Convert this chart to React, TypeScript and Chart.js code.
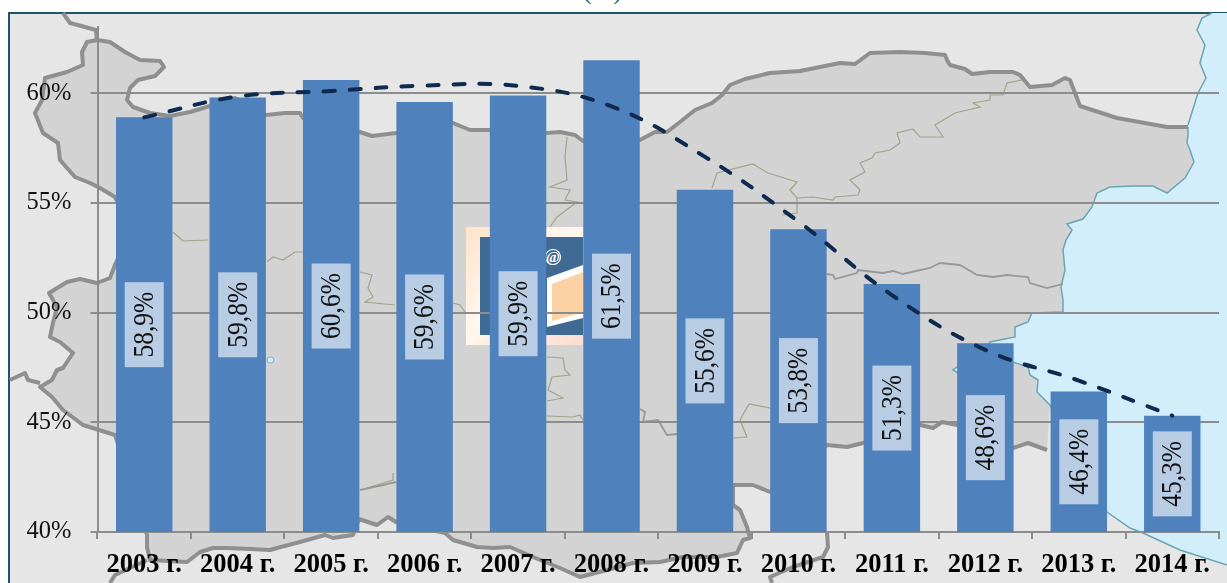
import React, { useEffect, useRef } from "react";
import { Chart, registerables } from "chart.js";

Chart.register(...registerables);

const categories = ["2003 г.", "2004 г.", "2005 г.", "2006 г.", "2007 г.", "2008 г.", "2009 г.", "2010 г.", "2011 г.", "2012 г.", "2013 г.", "2014 г."];
const barValues = [58.9, 59.8, 60.6, 59.6, 59.9, 61.5, 55.6, 53.8, 51.3, 48.6, 46.4, 45.3];
const trendValues = [58.9, 59.85, 60.1, 60.35, 60.33, 59.4, 57.1, 54.15, 50.8, 48.3, 46.9, 45.3];

const SERIF = '"Liberation Serif", "Times New Roman", serif';

// Decorative backdrop (the map picture behind the chart), in page pixels.
const northBorder = "97,40 110,42 125,52 140,60 160,61 164,67 155,76 138,80 130,88 127,100 133,107 150,113 170,116 190,112 210,106 235,98 266,115 285,113 300,113 303,118 360,132 372,136 396,133 453,123 470,130 490,130 546,133 560,132 575,135 583,141 640,140 655,132 667,132 680,122 695,110 712,103 722,95 730,85 745,79 770,73 800,71 820,67 840,63 855,64 870,53 900,52 925,53 945,55 947,60 950,65 965,69 972,74 990,72 1013,72 1020,75 1030,87 1052,85 1065,78 1070,80 1080,106 1117,118 1167,127 1188,127";
const coastNorth = "1212,13 1202,18 1197,30 1205,45 1200,63 1206,78 1198,93 1188,125";
const coastMain = "1188,127 1188,135 1187,143 1190,150 1194,162 1185,178 1167,193 1153,186 1133,186 1110,187 1097,193 1092,207 1083,219 1067,224 1072,230 1066,240 1063,250 1065,270 1061,287 1063,300 1063,312 1032,313 1028,322 1015,327 1015,337 990,342 985,352 960,365 953,370 958,373 985,365 1013,362 1028,367 1030,375 1038,380 1037,392 1050,405";
const coastSouth = "1050,405 1075,460 1107,512 1130,528 1143,533 1180,550 1227,565";
const southBorder = "1047,450 1028,443 1013,448 957,425 942,422 933,428 920,425 863,443 847,447 827,445 770,492 753,485 733,485 733,505 740,510 747,527 750,538 743,540 737,553 717,557 683,557 660,562 633,563 607,570 580,577 560,568 533,557 510,547 493,548 477,547 453,540 445,533 396,522 388,517 377,525 359,519 353,535 333,538 325,535 300,542 277,548 270,550 227,548 213,548 200,552 187,562 150,560 147,547 147,535 115,435 83,425 63,410 52,397 40,387 52,380 57,370 63,368 73,353 60,342 50,337 53,323 57,307 49,293 67,282 80,279 97,283 110,278 115,265 130,230 115,197 100,188 90,183 75,177 60,160 58,143 43,133 35,113 42,100 45,78 67,72 83,65 82,52 87,42 97,40";
const thickExtras = [
  "63,13 70,23 85,27 96,30 97,42",
  "10,380 25,373 28,380 40,383",
  "147,560 115,575 110,583",
  "827,532 828,547 823,557 793,567 770,577 772,583",
];
const midLines = [
  "827,274 833,275 835,279 857,273 858,270 883,273 893,271 903,274 930,268 940,263 960,265 977,275 993,277 1007,275 1028,277 1030,283 1047,288 1063,284",
  "640,409 645,412 643,422 658,420 667,435 677,434",
  "360,490 383,485 396,482",
];
const thinLines = [
  "1022,80 1007,83 1003,95 990,95 990,100 973,103 980,107 955,113 935,125 943,137 920,137 913,129 897,133 900,143 890,150 875,153 872,158 860,163 865,172 850,180 860,190 858,195 835,197 833,200 813,197 797,198 797,213 782,215",
  "797,198 790,190 797,182 768,173 753,164 717,173 712,188",
  "567,137 565,157 567,180 550,187 570,190 565,200 577,202 557,217 550,227",
  "173,232 183,241 208,240",
  "267,262 273,257 283,260 295,252 303,252",
  "360,272 372,275 368,288 373,297 365,302 395,305",
  "547,357 563,358 565,370 570,375 552,377 548,390 563,398 547,401",
  "547,416 573,417 580,415 583,420",
  "733,438 747,437 740,420 749,404 770,408",
  "453,303 460,305 465,312",
  "393,473 393,480 367,488",
];

function Backdrop() {
  return (
    <svg width={1227} height={583} style={{ position: "absolute", left: 0, top: 0 }}>
      <defs>
        <linearGradient id="iconFrame" x1="0" y1="0" x2="1" y2="1">
          <stop offset="0" stopColor="#FFE3C8" />
          <stop offset="0.45" stopColor="#FFF8EE" />
          <stop offset="1" stopColor="#FBDCD0" />
        </linearGradient>
      </defs>
      <rect x={9} y={13} width={1230} height={580} fill="#E6E6E6" stroke="#1F5568" strokeWidth={2} />
      <polygon points={`${northBorder} ${coastMain} ${southBorder}`} fill="#D3D3D3" />
      <polygon points={`1227,13 ${coastNorth} ${coastMain} ${coastSouth}`} fill="#D2EEFB" />
      <rect x={267} y={357} width={7} height={6} rx={3} fill="#D2EEFB" stroke="#6AA5B5" strokeWidth={0.8} />
      {thinLines.map((p, i) => (
        <polyline key={i} points={p} fill="none" stroke="#A3A38C" strokeWidth={1.2} />
      ))}
      {midLines.map((p, i) => (
        <polyline key={i} points={p} fill="none" stroke="#989898" strokeWidth={1.8} />
      ))}
      {[coastNorth, coastMain, coastSouth].map((p, i) => (
        <polyline key={i} points={p} fill="none" stroke="#6AA5B5" strokeWidth={1.5} />
      ))}
      {[northBorder, southBorder, ...thickExtras].map((p, i) => (
        <polyline key={i} points={p} fill="none" stroke="#8F8F8F" strokeWidth={4} strokeLinejoin="round" />
      ))}
      <rect x={466} y={227} width={117} height={118} fill="url(#iconFrame)" />
      <rect x={480} y={237} width={103} height={98} fill="#3F6A94" />
      <polygon points="547,278 583,265 583,318 547,327" fill="#FFFFFF" />
      <polygon points="552,284 583,272 583,312 552,321" fill="#FCD2A4" />
      <circle cx={553} cy={257} r={7.5} fill="none" stroke="#FFFFFF" strokeWidth={1.2} />
      <text x={553} y={262} textAnchor="middle" fill="#FFFFFF" fontFamily={SERIF} fontSize={15} fontWeight="bold">@</text>
    </svg>
  );
}

export default function App() {
  const ref = useRef<HTMLCanvasElement | null>(null);

  useEffect(() => {
    if (!ref.current) return;

    const valueBoxes = {
      id: "valueBoxes",
      afterDraw(chart: any) {
        const ctx = chart.ctx;
        const xs = chart.scales.x;
        const ys = chart.scales.y;
        barValues.forEach((v, i) => {
          const x = xs.getPixelForValue(i);
          const cy = (ys.getPixelForValue(v) + ys.getPixelForValue(40)) / 2;
          ctx.save();
          ctx.fillStyle = "#B8CCE4";
          ctx.fillRect(x - 19.5, cy - 42.5, 39, 85);
          ctx.translate(x, cy);
          ctx.rotate(-Math.PI / 2);
          ctx.scale(1, 1.15);
          ctx.fillStyle = "#111111";
          ctx.font = `25.5px ${SERIF}`;
          ctx.textAlign = "center";
          ctx.textBaseline = "middle";
          ctx.fillText(v.toFixed(1).replace(".", ",") + "%", 0, 1);
          ctx.restore();
        });
      },
    };

    const chart = new Chart(ref.current, {
      type: "bar",
      data: {
        labels: categories,
        datasets: [
          {
            type: "line",
            data: trendValues,
            order: 0,
            borderColor: "#0E2A4F",
            borderWidth: 4,
            borderDash: [11, 15],
            borderCapStyle: "round",
            pointRadius: 0,
            tension: 0.4,
            fill: false,
          },
          {
            type: "bar",
            data: barValues,
            order: 1,
            backgroundColor: "#4F81BD",
            barPercentage: 1,
            categoryPercentage: 0.604,
          },
        ],
      } as any,
      plugins: [valueBoxes],
      options: {
        animation: false,
        responsive: false,
        maintainAspectRatio: false,
        layout: { padding: { left: 0, right: 8, top: 27.4, bottom: 0 } },
        plugins: { legend: { display: false }, tooltip: { enabled: false }, title: { display: false } },
        scales: {
          x: {
            type: "category",
            offset: true,
            afterFit(scale: any) {
              scale.height = 51;
            },
            grid: { display: true, drawOnChartArea: false, drawTicks: true, tickLength: 7, color: "#8C8C8C", lineWidth: 2, offset: true },
            border: { display: true, color: "#8C8C8C", width: 2 },
            ticks: {
              color: "#000000",
              font: { family: SERIF, size: 26.5, weight: "bold" },
              padding: 10,
              maxRotation: 0,
              minRotation: 0,
              autoSkip: false,
            },
          },
          y: {
            type: "linear",
            min: 40,
            max: 63,
            afterFit(scale: any) {
              scale.width = 97.5;
              scale.paddingTop = 0;
              scale.paddingBottom = 0;
            },
            grid: { display: true, drawTicks: true, tickLength: 7, color: "#8C8C8C", lineWidth: 2 },
            border: { display: true, color: "#8C8C8C", width: 2 },
            ticks: {
              stepSize: 5,
              includeBounds: false,
              color: "#111111",
              font: { family: SERIF, size: 24.5 },
              padding: 19,
              callback: (v: any) => `${v}%`,
            },
          },
        },
      } as any,
    });
    return () => chart.destroy();
  }, []);

  return (
    <div style={{ position: "fixed", left: 0, top: 0, width: 1227, height: 583, overflow: "hidden", background: "#FFFFFF" }}>
      <Backdrop />
      <div style={{ position: "absolute", left: 583, top: -24, fontFamily: SERIF, fontSize: 26, lineHeight: "30px", color: "#215B6E", whiteSpace: "nowrap" }}>(%).</div>
      <canvas ref={ref} width={1227} height={583} style={{ position: "absolute", left: 0, top: 0, display: "block" }} />
    </div>
  );
}
